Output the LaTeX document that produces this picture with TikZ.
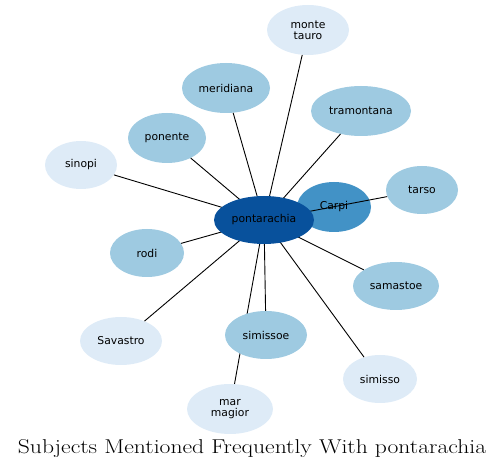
\documentclass[tikz,border=0pt]{standalone}
\usepackage{fontspec}
\newfontfamily\labelfont{DejaVu Sans}
\usepackage{tikz}
\usetikzlibrary{shapes.geometric}

\definecolor{hubblue}{HTML}{08519C}
\definecolor{midblue}{HTML}{4292C6}
\definecolor{softblue}{HTML}{9ECAE1}
\definecolor{paleblue}{HTML}{DEEBF7}

\begin{document}
\begin{tikzpicture}[x=1pt,y=-1pt,
    subj/.style={ellipse, inner sep=0pt, font=\labelfont\fontsize{10.8}{11}\selectfont, align=center},
    link/.style={black, line width=0.9pt}]

\useasboundingbox (0,0) rectangle (504,470);

% Carpi sits under the edges
\node[subj, fill=midblue, minimum width=74pt, minimum height=50pt] (carpi) at (334,207) {Carpi};

% Outer subjects
\node[subj, fill=paleblue, minimum width=82pt, minimum height=50pt] (monte) at (308,30) {monte\\tauro};
\node[subj, fill=softblue, minimum width=88pt, minimum height=50pt] (meridiana) at (226,88) {meridiana};
\node[subj, fill=softblue, minimum width=100pt, minimum height=50pt] (tramontana) at (361,111) {tramontana};
\node[subj, fill=softblue, minimum width=78pt, minimum height=50pt] (ponente) at (167,138) {ponente};
\node[subj, fill=paleblue, minimum width=72pt, minimum height=48pt] (sinopi) at (81,165) {sinopi};
\node[subj, fill=softblue, minimum width=72pt, minimum height=48pt] (tarso) at (422,190) {tarso};
\node[subj, fill=softblue, minimum width=74pt, minimum height=48pt] (rodi) at (147,253) {rodi};
\node[subj, fill=softblue, minimum width=86pt, minimum height=48pt] (samastoe) at (396,286) {samastoe};
\node[subj, fill=paleblue, minimum width=82pt, minimum height=48pt] (savastro) at (121,341) {Savastro};
\node[subj, fill=paleblue, minimum width=74pt, minimum height=48pt] (simisso) at (380,379) {simisso};
\node[subj, fill=paleblue, minimum width=86pt, minimum height=50pt] (mar) at (230,409) {mar\\magior};

% Edges from the hub
\coordinate (hubc) at (264,220);
\foreach \s in {monte,meridiana,tramontana,ponente,sinopi,tarso,rodi,samastoe,savastro,simisso,mar}
    \draw[link] (hubc) -- (\s);

% simissoe over the edge to mar magior
\node[subj, fill=softblue, minimum width=82pt, minimum height=48pt] (simissoe) at (266,335) {simissoe};
\draw[link] (hubc) -- (simissoe);

% Hub
\node[subj, fill=hubblue, minimum width=100pt, minimum height=48pt] (hub) at (264,220) {pontarachia};

% Title
\node[font=\fontsize{20}{22}\selectfont, xscale=1.18] (title) at (252,449) {Subjects Mentioned Frequently With pontarachia};

\end{tikzpicture}
\end{document}
